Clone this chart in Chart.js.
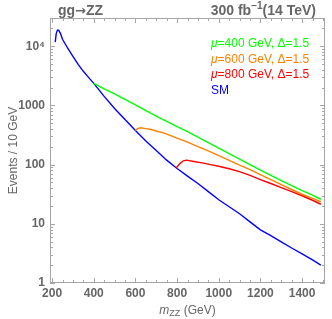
<!DOCTYPE html>
<html>
<head>
<meta charset="utf-8">
<script src="https://cdn.jsdelivr.net/npm/chart.js@4/dist/chart.umd.min.js"></script>
<style>
  html, body { margin: 0; padding: 0; background: #fff; }
  #wrap { width: 332px; height: 319px; position: relative; }
</style>
</head>
<body>
<div id="wrap"><canvas id="zzChart" width="332" height="319"></canvas></div>
<script>
// DATA ---------------------------------------------------------------
const xTicks = [200, 400, 600, 800, 1000, 1200, 1400];
const yTicks = [1, 10, 100, 1000, 10000];

const smMass = [215, 220, 226, 232, 240, 250, 275, 300, 325, 350, 375, 400, 450, 500, 550, 600, 650, 700, 750, 800, 850, 900, 950, 1000, 1050, 1100, 1150, 1200, 1250, 1300, 1350, 1400, 1450, 1490];
const smEvents = [11700, 16500, 18800, 18500, 16500, 13100, 9250, 6760, 4950, 3770, 2980, 2360, 1420, 886, 580, 377, 250, 173, 119, 86, 64, 48, 35, 25.5, 19.4, 14.8, 10.8, 7.9, 6.3, 4.96, 3.9, 3.1, 2.45, 2.0];

const mu400Mass = [400, 450, 500, 550, 600, 650, 700, 750, 800, 850, 900, 950, 1000, 1050, 1100, 1150, 1200, 1250, 1300, 1350, 1400, 1450, 1490];
const mu400Events = [2360, 1900, 1570, 1260, 1020, 820, 660, 540, 440, 360, 292, 235, 190, 153, 124, 100, 81, 66, 53.6, 44, 36.3, 30.5, 26];

const mu600Mass = [600, 610, 625, 650, 675, 700, 735, 800, 850, 900, 950, 1000, 1050, 1100, 1150, 1200, 1250, 1300, 1350, 1400, 1450, 1490];
const mu600Events = [377, 405, 419, 405, 392, 370, 344, 280, 240, 202, 170, 142, 118, 98, 82, 67.6, 56, 45.8, 38, 31.6, 27, 23.6];

const mu800Mass = [795, 815, 830, 845, 880, 920, 960, 1000, 1050, 1100, 1150, 1200, 1250, 1300, 1350, 1400, 1450, 1490];
const mu800Events = [88, 105, 116, 119, 113, 107, 100, 94, 85, 76, 66, 56, 48, 40.8, 35, 29.8, 25, 21.4];

const seriesLabels = ['μ=400 GeV, Δ=1.5', 'μ=600 GeV, Δ=1.5', 'μ=800 GeV, Δ=1.5', 'SM'];
const seriesColors = ['#00ff00', '#ff8000', '#ff0000', '#0000ff'];

// HELPERS ------------------------------------------------------------
function toPoints(xs, ys) {
    return xs.map((x, i) => ({ x: x, y: ys[i] }));
}

const FONT = '"Liberation Sans", Arial, sans-serif';
const GRAY = '#666666';
const FRAME = '#a6a6a6';

// frame, inward ticks, titles and legend
const framePlugin = {
    id: 'framePlugin',
    afterDraw(chart) {
        const ctx = chart.ctx;
        const a = chart.chartArea;
        const xs = chart.scales.x;
        const ys = chart.scales.y;
        ctx.save();
        ctx.strokeStyle = FRAME;
        ctx.lineWidth = 1;
        ctx.strokeRect(a.left + 0.5, a.top + 0.5, a.right - a.left - 1, a.bottom - a.top - 1);

        ctx.beginPath();
        for (let v = 200; v <= 1500; v += 50) {
            const px = Math.round(xs.getPixelForValue(v)) + 0.5;
            const len = (v % 200 === 0) ? 5 : 3;
            ctx.moveTo(px, a.bottom); ctx.lineTo(px, a.bottom - len);
            ctx.moveTo(px, a.top); ctx.lineTo(px, a.top + len);
        }
        for (let d = 1; d <= 10000; d *= 10) {
            for (let m = 1; m <= 9; m++) {
                const v = d * m;
                if (v > ys.max) break;
                const py = Math.round(ys.getPixelForValue(v)) + 0.5;
                const len = (m === 1) ? 5 : 3;
                ctx.moveTo(a.left, py); ctx.lineTo(a.left + len, py);
                ctx.moveTo(a.right, py); ctx.lineTo(a.right - len, py);
            }
        }
        ctx.stroke();

        // top titles
        ctx.fillStyle = GRAY;
        ctx.textBaseline = 'alphabetic';
        ctx.textAlign = 'left';
        let tx = 58;
        ctx.font = 'bold 14px ' + FONT;
        ctx.fillText('gg', tx, 15);
        tx += ctx.measureText('gg').width;
        ctx.font = 'bold 13px "DejaVu Sans", sans-serif';
        ctx.fillText('→', tx, 15);
        tx += ctx.measureText('→').width;
        ctx.font = 'bold 14px ' + FONT;
        ctx.fillText('ZZ', tx, 15);

        ctx.textAlign = 'right';
        ctx.fillText('(14 TeV)', 316, 15);
        const w1 = ctx.measureText('(14 TeV)').width;
        ctx.font = 'bold 10px ' + FONT;
        ctx.fillText('−1', 316 - w1, 9);
        const w2 = ctx.measureText('−1').width;
        ctx.font = 'bold 14px ' + FONT;
        ctx.fillText('300 fb', 316 - w1 - w2, 15);

        // legend
        const ly = [47, 63, 78, 94];
        ctx.textAlign = 'left';
        seriesLabels.forEach((lab, i) => {
            ctx.fillStyle = seriesColors[i];
            let x = 211;
            if (lab.startsWith('μ')) {
                ctx.font = 'italic 12px ' + FONT;
                ctx.fillText('μ', x, ly[i]);
                x += ctx.measureText('μ').width;
                ctx.font = '12px ' + FONT;
                ctx.fillText(lab.slice(1), x, ly[i]);
            } else {
                ctx.font = '12px ' + FONT;
                ctx.fillText(lab, x, ly[i]);
            }
        });

        // axis titles
        ctx.fillStyle = GRAY;
        ctx.font = 'italic 12px ' + FONT;
        const mW = ctx.measureText('m').width;
        ctx.font = '9px ' + FONT;
        const zW = ctx.measureText('ZZ').width;
        ctx.font = '12px ' + FONT;
        const gW = ctx.measureText(' (GeV)').width;
        let sx = (a.left + a.right) / 2 - (mW + zW + gW) / 2;
        ctx.textAlign = 'left';
        ctx.font = 'italic 12px ' + FONT;
        ctx.fillText('m', sx, 314);
        ctx.font = '9px ' + FONT;
        ctx.fillText('ZZ', sx + mW, 316);
        ctx.font = '12px ' + FONT;
        ctx.fillText(' (GeV)', sx + mW + zW, 314);

        ctx.translate(17, (a.top + a.bottom) / 2);
        ctx.rotate(-Math.PI / 2);
        ctx.textAlign = 'center';
        ctx.font = '12px ' + FONT;
        ctx.fillText('Events / 10 GeV', 0, 0);
        ctx.restore();
    }
};

// CHART --------------------------------------------------------------
document.addEventListener('DOMContentLoaded', () => {
    const ctx = document.getElementById('zzChart').getContext('2d');

    const sets = [
        [mu400Mass, mu400Events],
        [mu600Mass, mu600Events],
        [mu800Mass, mu800Events],
        [smMass, smEvents]
    ];

    new Chart(ctx, {
        type: 'line',
        data: {
            datasets: sets.map((s, i) => ({
                label: seriesLabels[i],
                data: toPoints(s[0], s[1]),
                borderColor: seriesColors[i],
                borderWidth: 1.4,
                pointRadius: 0,
                tension: 0,
                fill: false
            }))
        },
        options: {
            responsive: false,
            animation: false,
            layout: { padding: { top: 18, right: 7, left: 0, bottom: 0 } },
            plugins: {
                legend: { display: false },
                tooltip: { enabled: false }
            },
            scales: {
                x: {
                    type: 'linear',
                    min: 190,
                    max: 1510,
                    afterBuildTicks: (scale) => { scale.ticks = xTicks.map(v => ({ value: v })); },
                    afterFit: (scale) => { scale.height = 36; },
                    grid: { display: false, drawTicks: false },
                    border: { display: false },
                    ticks: {
                        color: GRAY,
                        font: { family: FONT, size: 12, weight: 'bold' },
                        padding: 3,
                        maxRotation: 0,
                        callback: (v) => String(v)
                    }
                },
                y: {
                    type: 'logarithmic',
                    min: 1,
                    max: 30000,
                    afterBuildTicks: (scale) => { scale.ticks = yTicks.map(v => ({ value: v })); },
                    afterFit: (scale) => { scale.width = 50; },
                    grid: { display: false, drawTicks: false },
                    border: { display: false },
                    ticks: {
                        color: GRAY,
                        font: { family: FONT, size: 12, weight: 'bold' },
                        padding: 5,
                        callback: (v) => v === 10000 ? '10⁴' : String(v)
                    }
                }
            }
        },
        plugins: [framePlugin]
    });
});
</script>
</body>
</html>
